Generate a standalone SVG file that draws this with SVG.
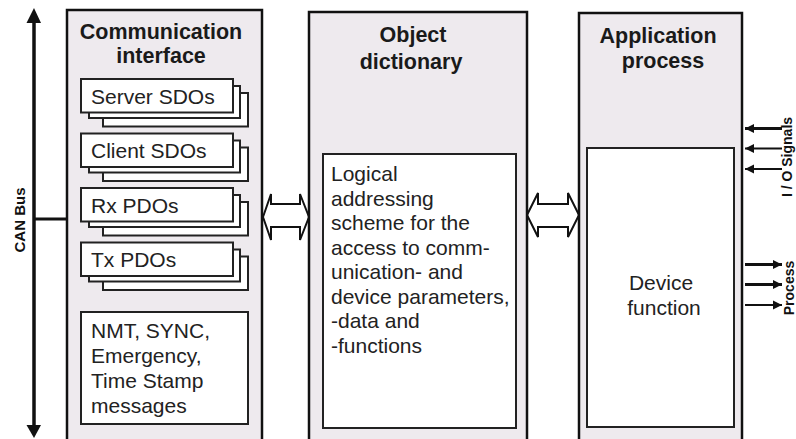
<svg xmlns="http://www.w3.org/2000/svg" xmlns:xlink="http://www.w3.org/1999/xlink" width="796" height="439" viewBox="0 0 796 439">
<style>
.outer{fill:#eeeaee;stroke:#111;stroke-width:2.5}
.inner{fill:#fff;stroke:#222;stroke-width:2}
.title{font-family:"Liberation Sans",Arial,sans-serif;font-weight:bold;font-size:21.5px;fill:#1a1a1a;text-anchor:middle}
.body{font-family:"Liberation Sans",Arial,sans-serif;font-size:21px;fill:#222}
.side{font-family:"Liberation Sans",Arial,sans-serif;font-weight:bold;font-size:15px;fill:#111;text-anchor:middle}
.side2{font-family:"Liberation Sans",Arial,sans-serif;font-weight:bold;font-size:14px;fill:#111;text-anchor:middle}
.dbl{fill:#fff;stroke:#111;stroke-width:2;stroke-linejoin:miter}
.sig{stroke:#111;fill:none}
</style>
<defs>
<marker id="ah" markerUnits="userSpaceOnUse" markerWidth="10" markerHeight="10" refX="9" refY="5" orient="auto">
<path d="M0,0.5 L9,5 L0,9.5 Z" fill="#111"/>
</marker>
<g id="stack">
<rect class="inner" x="22" y="14" width="145" height="33.5"/>
<rect class="inner" x="8" y="7" width="151" height="32"/>
<rect class="inner" x="0" y="0" width="152" height="33.5"/>
</g>
</defs>

<g id="connectors">
<g id="can-bus-line">
<line x1="34" y1="20" x2="34" y2="428" stroke="#111" stroke-width="3.5"/>
<polygon points="34,8 26.5,23 41,23" fill="#111"/>
<polygon points="26.5,425 41,425 34,438" fill="#111"/>
<line x1="34" y1="219" x2="67" y2="219" stroke="#111" stroke-width="3"/>
</g>
<polygon class="dbl" points="263,217 271,194 271,204 300,204 300,194 309,217 300,240 300,227 271,227 271,240"/>
<polygon class="dbl" points="527,215 538,193 538,204 568,204 568,193 579,215 568,237 568,227 538,227 538,237"/>
<line class="sig" x1="782" y1="128.5" x2="745" y2="128.5" stroke-width="3" marker-end="url(#ah)"/>
<line class="sig" x1="782" y1="148.5" x2="745" y2="148.5" stroke-width="1.8" marker-end="url(#ah)"/>
<line class="sig" x1="782" y1="169" x2="745" y2="169" stroke-width="1.8" marker-end="url(#ah)"/>
<line class="sig" x1="745" y1="264.5" x2="782" y2="264.5" stroke-width="3" marker-end="url(#ah)"/>
<line class="sig" x1="745" y1="284.5" x2="782" y2="284.5" stroke-width="3" marker-end="url(#ah)"/>
<line class="sig" x1="745" y1="305" x2="782" y2="305" stroke-width="1.8" marker-end="url(#ah)"/>
</g>

<g id="can-bus-label">
<text class="side" transform="translate(25,220) rotate(-90)">CAN Bus</text>
</g>

<g id="comm-interface">
<rect class="outer" x="67" y="10" width="195" height="440"/>
<text class="title" x="161" y="39">Communication</text>
<text class="title" x="161" y="63">interface</text>
<use xlink:href="#stack" x="81" y="79"/>
<text class="body" x="91" y="104">Server SDOs</text>
<use xlink:href="#stack" x="81" y="133.5"/>
<text class="body" x="91" y="158">Client SDOs</text>
<use xlink:href="#stack" x="81" y="188"/>
<text class="body" x="91" y="213">Rx PDOs</text>
<use xlink:href="#stack" x="81" y="242.5"/>
<text class="body" x="91" y="267">Tx PDOs</text>
<rect class="inner" x="81" y="312" width="167" height="112"/>
<text class="body" x="91" y="338">NMT, SYNC,</text>
<text class="body" x="91" y="363">Emergency,</text>
<text class="body" x="91" y="388">Time Stamp</text>
<text class="body" x="91" y="413">messages</text>
</g>

<g id="object-dictionary">
<rect class="outer" x="309" y="12" width="218" height="440"/>
<text class="title" x="413" y="42">Object</text>
<text class="title" x="411" y="69">dictionary</text>
<rect class="inner" x="323" y="154" width="193" height="274"/>
<text class="body" x="331" y="181">Logical</text>
<text class="body" x="331" y="205.5">addressing</text>
<text class="body" x="331" y="230">scheme for the</text>
<text class="body" x="331" y="254.5">access to comm-</text>
<text class="body" x="331" y="279">unication- and</text>
<text class="body" x="331" y="303.5">device parameters,</text>
<text class="body" x="331" y="328">-data and</text>
<text class="body" x="331" y="352.5">-functions</text>
</g>

<g id="application-process">
<rect class="outer" x="579" y="13" width="163" height="440"/>
<text class="title" x="658" y="43">Application</text>
<text class="title" x="663" y="68">process</text>
<rect class="inner" x="587" y="148" width="147" height="279"/>
<text class="body" x="661" y="290" text-anchor="middle">Device</text>
<text class="body" x="664" y="315" text-anchor="middle">function</text>
</g>

<g id="io-labels">
<text class="side2" transform="translate(792,157) rotate(-90)">I / O Signals</text>
<text class="side2" transform="translate(794,288) rotate(-90)">Process</text>
</g>
</svg>
